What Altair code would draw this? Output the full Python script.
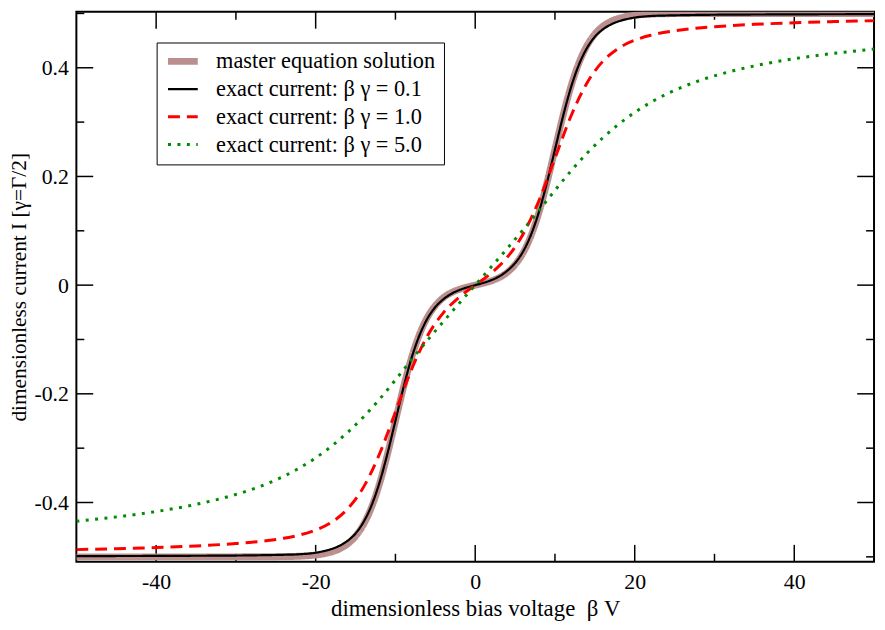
import altair as alt
import pandas as pd

# ---- series names / styling keys ----
names = [
    "master equation solution",
    "exact current: β γ = 0.1",
    "exact current: β γ = 1.0",
    "exact current: β γ = 5.0",
]
colors = ["#bc8f8f", "#000000", "#ff0000", "#008b00"]
dashes = [[1, 0], [1, 0], [12, 7], [3, 6.5]]
widths = [7, 2.2, 3, 3]

# ---- data ----
V_me = [-50, -45, -40, -35, -30, -26, -24, -22, -20, -19, -18, -17, -16, -15, -14, -13, -12, -11,
        -10, -9, -8, -7, -6, -5, -4, -3, -2, -1, 0, 1, 2, 3, 4, 5, 6, 7, 8, 9, 10, 11, 12, 13,
        14, 15, 16, 17, 18, 19, 20, 22, 24, 26, 30, 35, 40, 45, 50]
I_me = [-0.5, -0.5, -0.5, -0.5, -0.5, -0.4998, -0.4995, -0.4988, -0.4966, -0.4945, -0.4910,
        -0.4853, -0.4763, -0.4621, -0.4404, -0.4087, -0.3655, -0.3112, -0.25, -0.1887, -0.1344,
        -0.0911, -0.0594, -0.0377, -0.0232, -0.0139, -0.0078, -0.0035, 0.0, 0.0035, 0.0078,
        0.0139, 0.0232, 0.0377, 0.0594, 0.0911, 0.1344, 0.1887, 0.25, 0.3112, 0.3655, 0.4087,
        0.4404, 0.4621, 0.4763, 0.4853, 0.4910, 0.4945, 0.4966, 0.4988, 0.4995, 0.4998, 0.5,
        0.5, 0.5, 0.5, 0.5]

V_g01 = V_me
I_g01 = [-0.4987, -0.4985, -0.4983, -0.4980, -0.4976, -0.4968, -0.4962, -0.4952, -0.4924,
         -0.4895, -0.4855, -0.4795, -0.4705, -0.4570, -0.4360, -0.4055, -0.3635, -0.3100,
         -0.2495, -0.1890, -0.1352, -0.0929, -0.0618, -0.0405, -0.0262, -0.0160, -0.0091,
         -0.0041, 0.0, 0.0041, 0.0091, 0.0160, 0.0262, 0.0405, 0.0618, 0.0929, 0.1352, 0.1890,
         0.2495, 0.3100, 0.3635, 0.4055, 0.4360, 0.4570, 0.4705, 0.4795, 0.4855, 0.4895,
         0.4924, 0.4952, 0.4962, 0.4968, 0.4976, 0.4980, 0.4983, 0.4985, 0.4987]

V_g1 = [-50, -45, -40, -35, -30, -28, -26, -24, -22, -20, -18, -16, -14, -12, -10, -8, -6, -4,
        -2, 0, 2, 4, 6, 8, 10, 12, 14, 16, 18, 20, 22, 24, 26, 28, 30, 35, 40, 45, 50]
I_g1 = [-0.4867, -0.4850, -0.4829, -0.4799, -0.4755, -0.4731, -0.4700, -0.4658, -0.4598,
        -0.4507, -0.4362, -0.4119, -0.3717, -0.3108, -0.2335, -0.1558, -0.0937, -0.0510,
        -0.0221, 0.0, 0.0221, 0.0510, 0.0937, 0.1558, 0.2335, 0.3108, 0.3717, 0.4119, 0.4362,
        0.4507, 0.4598, 0.4658, 0.4700, 0.4731, 0.4755, 0.4799, 0.4829, 0.4850, 0.4867]

V_g5 = [-50, -48, -44, -40, -36, -32, -28, -24, -20, -18, -16, -14, -12, -10, -8, -6, -4, -2,
        0, 2, 4, 6, 8, 10, 12, 14, 16, 18, 20, 24, 28, 32, 36, 40, 44, 48, 50]
I_g5 = [-0.4344, -0.4314, -0.4248, -0.4166, -0.4064, -0.3932, -0.3758, -0.3517, -0.3179,
        -0.2962, -0.2711, -0.2425, -0.2101, -0.1744, -0.1376, -0.1018, -0.0672, -0.0334, 0.0,
        0.0334, 0.0672, 0.1018, 0.1376, 0.1744, 0.2101, 0.2425, 0.2711, 0.2962, 0.3179,
        0.3517, 0.3758, 0.3932, 0.4064, 0.4166, 0.4248, 0.4314, 0.4344]

# ---- axis ticks ----
x_major = [-40, -20, 0, 20, 40]
x_minor = [-30, -10, 10, 30]
y_major = [-0.4, -0.2, 0, 0.2, 0.4]
y_minor = [-0.5, -0.3, -0.1, 0.1, 0.3, 0.5]

W, H = 805, 555
FONT = "Liberation Serif"

frames = []
for nm, vv, ii in zip(names, [V_me, V_g01, V_g1, V_g5], [I_me, I_g01, I_g1, I_g5]):
    frames.append(pd.DataFrame({"V": vv, "I": ii, "series": nm}))
df = pd.concat(frames, ignore_index=True)

xs = alt.Scale(domain=[-50, 50], nice=False, zero=False)
ys = alt.Scale(domain=[-0.509, 0.503], nice=False, zero=False)
x_axis = alt.Axis(values=x_major, labelExpr="toString(datum.value)",
                  title="dimensionless bias voltage\u00a0\u00a0β\u00a0V",
                  labelPadding=10, titlePadding=5, titleFontSize=23)
y_axis = alt.Axis(values=y_major, labelExpr="toString(datum.value)",
                  title="dimensionless current I [γ=Γ/2]",
                  labelPadding=8, titlePadding=4, titleFontSize=21.5)

leg = alt.Legend(title=None, orient="none", legendX=81, legendY=31, strokeColor="black",
                 padding=8, symbolType="stroke", symbolSize=900, labelFont=FONT, labelFontSize=22.5,
                 labelColor="black", labelOffset=15, rowPadding=5, clipHeight=22, labelLimit=500)

lines = alt.Chart(df).mark_line(clip=True, interpolate="monotone").encode(
    x=alt.X("V:Q", scale=xs, axis=x_axis),
    y=alt.Y("I:Q", scale=ys, axis=y_axis),
    color=alt.Color("series:N", scale=alt.Scale(domain=names, range=colors), legend=leg),
    strokeDash=alt.StrokeDash("series:N", scale=alt.Scale(domain=names, range=dashes), legend=leg),
    strokeWidth=alt.StrokeWidth("series:N",
                                scale=alt.Scale(type="ordinal", domain=names, range=widths),
                                legend=leg),
)

def xticks(vals, y1, y2):
    return alt.Chart(pd.DataFrame({"V": vals})).mark_rule(color="black", strokeWidth=1.5).encode(
        x=alt.X("V:Q", scale=xs, axis=x_axis), y=alt.value(y1), y2=alt.value(y2))

def yticks(vals, x1, x2):
    return alt.Chart(pd.DataFrame({"I": vals})).mark_rule(color="black", strokeWidth=1.5).encode(
        y=alt.Y("I:Q", scale=ys, axis=y_axis), x=alt.value(x1), x2=alt.value(x2))

layers = [
    xticks(x_major, H, H - 17), xticks(x_major, 0, 17),
    xticks(x_minor, H, H - 8), xticks(x_minor, 0, 8),
    yticks(y_major, 0, 17), yticks(y_major, W, W - 17),
    yticks(y_minor, 0, 8), yticks(y_minor, W, W - 8),
    lines,
]

chart = alt.layer(*layers).properties(
    width=W, height=H,
    autosize=alt.AutoSizeParams(type="none"),
    padding={"left": 69, "top": 1, "right": 3, "bottom": 60},
).configure_view(stroke="black", strokeWidth=2).configure_axis(
    grid=False, domain=False, ticks=False,
    labelFont=FONT, labelFontSize=22, labelColor="black",
    titleFont=FONT, titleFontSize=22, titleFontWeight="normal", titleColor="black",
)

chart.save("out.html", embed_options={"renderer": "svg", "actions": False})
